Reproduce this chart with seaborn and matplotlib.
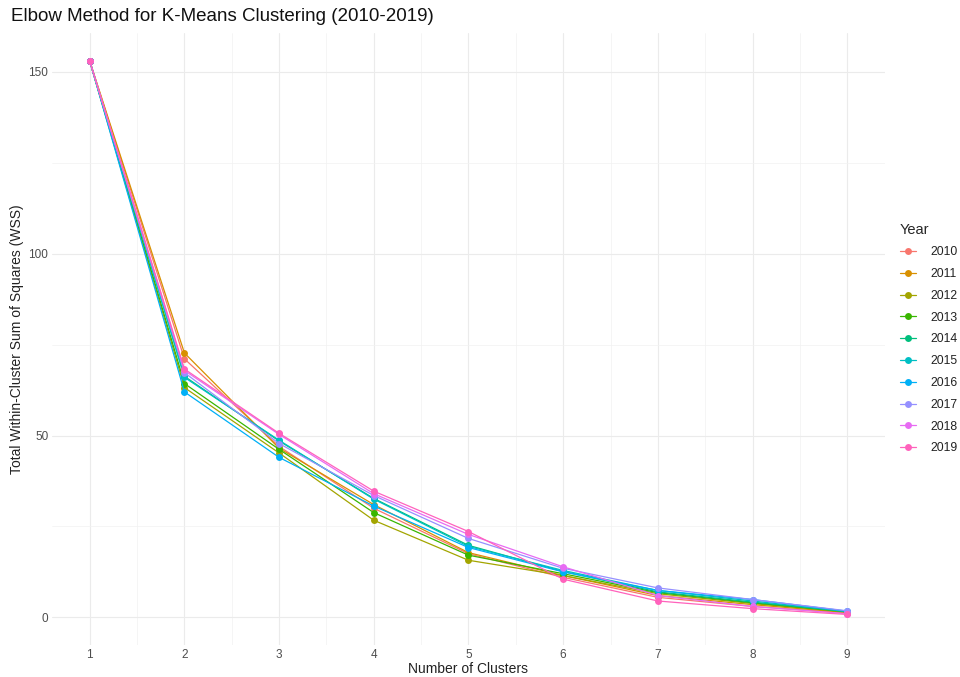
import pandas as pd
import numpy as np
import seaborn as sns
import matplotlib.pyplot as plt

# WSS per number of clusters, one list per year
clusters = [1, 2, 3, 4, 5, 6, 7, 8, 9]
years = [2010, 2011, 2012, 2013, 2014, 2015, 2016, 2017, 2018, 2019]
wss_2010 = [153, 71.1, 47.0, 30.0, 17.5, 11.0, 5.5, 3.0, 1.2]
wss_2011 = [153, 72.7, 46.5, 31.0, 17.8, 11.5, 6.0, 3.5, 1.3]
wss_2012 = [153, 63.2, 45.2, 26.7, 15.7, 11.5, 6.5, 3.8, 1.5]
wss_2013 = [153, 64.3, 46.2, 28.8, 17.1, 12.0, 6.8, 4.0, 1.5]
wss_2014 = [153, 66.3, 48.5, 32.7, 19.8, 12.6, 7.0, 4.2, 1.6]
wss_2015 = [153, 66.0, 48.7, 32.5, 19.5, 12.9, 7.4, 4.5, 1.6]
wss_2016 = [153, 62.0, 44.0, 30.6, 19.2, 12.5, 7.4, 4.9, 1.7]
wss_2017 = [153, 67.3, 47.8, 33.5, 21.7, 13.5, 8.1, 4.9, 1.8]
wss_2018 = [153, 67.9, 50.3, 34.0, 22.8, 13.9, 6.0, 3.0, 1.0]
wss_2019 = [153, 68.3, 50.6, 34.7, 23.6, 10.5, 4.5, 2.4, 0.8]
all_wss = [wss_2010, wss_2011, wss_2012, wss_2013, wss_2014,
           wss_2015, wss_2016, wss_2017, wss_2018, wss_2019]

# ggplot-style hue palette
colors = ["#F8766D", "#D89000", "#A3A500", "#39B600", "#00BF7D",
          "#00BFC4", "#00B0F6", "#9590FF", "#E76BF3", "#FF62BC"]

rows = []
for yr, vals in zip(years, all_wss):
    for k, v in zip(clusters, vals):
        rows.append({"k": k, "wss": v, "Year": str(yr)})
df = pd.DataFrame(rows)

sns.set_style("white")
plt.rcParams["font.family"] = ["Liberation Sans", "DejaVu Sans"]

fig = plt.figure(figsize=(9.6, 6.77), dpi=100)
ax = fig.add_axes([0.054, 0.047, 0.868, 0.904])

sns.lineplot(data=df, x="k", y="wss", hue="Year", palette=colors,
             marker="o", markersize=5, markeredgewidth=0, linewidth=0.9,
             ax=ax, zorder=3)

ax.set_xlim(0.6, 9.4)
ax.set_ylim(-7.65, 160.65)
ax.set_xticks(clusters)
ax.set_yticks([0, 50, 100, 150])
ax.set_xticks(np.arange(1.5, 9, 1), minor=True)
ax.set_yticks([25, 75, 125], minor=True)
ax.grid(True, which="major", color="#EBEBEB", linewidth=0.8)
ax.grid(True, which="minor", color="#F2F2F2", linewidth=0.5)
ax.set_axisbelow(True)
for s in ax.spines.values():
    s.set_visible(False)
ax.tick_params(which="both", length=0, labelsize=8.5, labelcolor="#4D4D4D", pad=2.5)

ax.set_xlabel("Number of Clusters", fontsize=10, color="#222222", labelpad=1)
ax.set_ylabel("Total Within-Cluster Sum of Squares (WSS)", fontsize=10,
              color="#222222", labelpad=3)
fig.text(0.011, 0.963, "Elbow Method for K-Means Clustering (2010-2019)",
         fontsize=13.5, color="#111111", va="bottom")

leg = ax.legend(title="Year", loc="center left", bbox_to_anchor=(0.931, 0.5),
                bbox_transform=fig.transFigure, borderpad=0,
                frameon=False, fontsize=8.8, title_fontsize=10.5,
                handlelength=1.3, handletextpad=1.2, labelspacing=0.8,
                alignment="left")
for t in leg.get_texts():
    t.set_color("#222222")

fig.savefig("out.png", dpi=100)
